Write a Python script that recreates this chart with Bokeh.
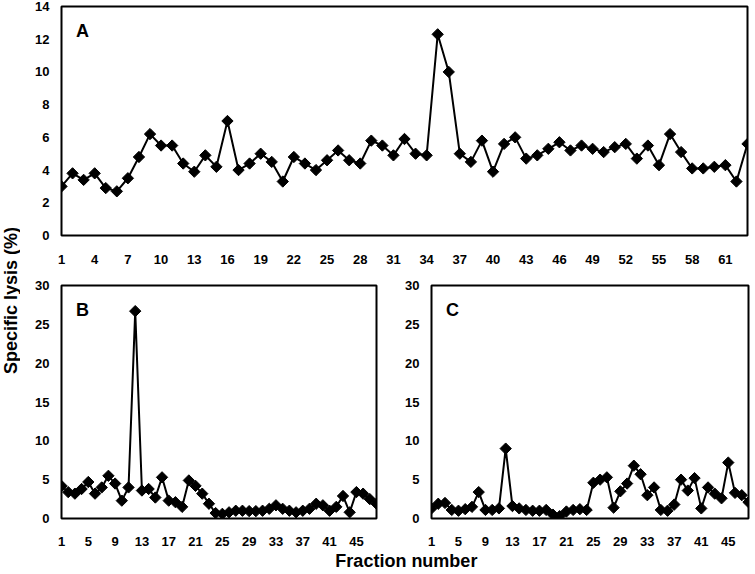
import math
from bokeh.plotting import figure
from bokeh.layouts import row, column
from bokeh.models import Range1d, FixedTicker, Label
from bokeh.embed import file_html
from bokeh.resources import INLINE

# ---------------- data ----------------
fractions_a = list(range(1, 64))
lysis_a = [3.0, 3.8, 3.4, 3.8, 2.9, 2.7, 3.5, 4.8, 6.2, 5.5,
           5.5, 4.4, 3.9, 4.9, 4.2, 7.0, 4.0, 4.4, 5.0, 4.5,
           3.3, 4.8, 4.4, 4.0, 4.6, 5.2, 4.6, 4.4, 5.8, 5.5,
           4.9, 5.9, 5.0, 4.9, 12.3, 10.0, 5.0, 4.5, 5.8, 3.9,
           5.6, 6.0, 4.7, 4.9, 5.3, 5.7, 5.2, 5.5, 5.3, 5.1,
           5.4, 5.6, 4.7, 5.5, 4.3, 6.2, 5.1, 4.1, 4.1, 4.2,
           4.3, 3.3, 5.6]

fractions_bc = list(range(1, 49))
lysis_b = [4.2, 3.4, 3.2, 3.8, 4.7, 3.2, 4.0, 5.5, 4.5, 2.3,
           4.0, 26.7, 3.6, 3.8, 2.7, 5.3, 2.3, 2.1, 1.5, 4.9,
           4.2, 3.2, 1.9, 0.7, 0.6, 0.8, 1.0, 1.0, 0.95, 0.95,
           1.0, 1.25, 1.7, 1.25, 1.0, 0.8, 1.0, 1.25, 1.9, 1.7,
           1.0, 1.5, 2.9, 0.8, 3.4, 3.2, 2.5, 1.9]
lysis_c = [1.3, 1.9, 2.0, 1.1, 1.0, 1.2, 1.5, 3.4, 1.1, 1.1,
           1.3, 9.0, 1.6, 1.3, 1.1, 1.0, 1.0, 1.1, 0.5, 0.3,
           0.9, 1.1, 1.2, 1.1, 4.6, 5.0, 5.3, 1.4, 3.5, 4.5,
           6.8, 5.7, 3.0, 4.0, 1.1, 1.0, 1.8, 5.0, 3.6, 5.2,
           1.3, 4.0, 3.2, 2.6, 7.2, 3.3, 3.0, 2.1]

ticks_a_x = list(range(1, 62, 3))
ticks_a_y = list(range(0, 15, 2))
ticks_bc_x = list(range(1, 46, 4))
ticks_bc_y = list(range(0, 31, 5))

FONT = "Liberation Sans"


def panel(xs, ys, xr, yr, xt, yt, letter, width, height, mb, xstand):
    p = figure(width=width, height=height, x_range=Range1d(*xr), y_range=Range1d(*yr),
               output_backend="svg", toolbar_location=None,
               min_border_left=mb[0], min_border_right=mb[1],
               min_border_top=mb[2], min_border_bottom=mb[3])
    p.xgrid.visible = False
    p.ygrid.visible = False
    p.background_fill_color = "white"
    p.border_fill_color = "white"
    p.outline_line_color = "black"
    p.outline_line_width = 2
    for ax in (p.xaxis[0], p.yaxis[0]):
        ax.axis_line_color = None
        ax.major_tick_line_color = None
        ax.minor_tick_line_color = None
        ax.major_label_text_font = FONT
        ax.major_label_text_font_style = "bold"
        ax.major_label_text_font_size = "13px"
        ax.major_label_text_color = "black"
    p.xaxis[0].ticker = FixedTicker(ticks=xt)
    p.yaxis[0].ticker = FixedTicker(ticks=yt)
    p.xaxis[0].major_label_standoff = xstand
    p.yaxis[0].major_label_standoff = 6
    p.line(xs, ys, line_color="black", line_width=2)
    p.scatter(xs, ys, marker="square", angle=math.pi / 4, size=8,
              fill_color="black", line_color="black")
    p.add_layout(Label(x=21, y=height - mb[2] - mb[3] - 24, x_units="screen", y_units="screen",
                       text=letter, text_font=FONT, text_font_style="bold", text_color="black",
                       text_font_size="18px", text_baseline="middle", text_align="center"))
    return p


pa = panel(fractions_a, lysis_a, (1, 63), (0, 14), ticks_a_x, ticks_a_y, "A",
           732, 266, (41, 5, 6, 31), 13)
pb = panel(fractions_bc, lysis_b, (1, 48), (0, 30), ticks_bc_x, ticks_bc_y, "B",
           370, 282, (41, 14, 19, 30), 12)
pc = panel(fractions_bc, lysis_c, (1, 48), (0, 30), ticks_bc_x, ticks_bc_y, "C",
           362, 282, (41, 4, 19, 30), 12)

# y title
ylab = figure(width=20, height=574, x_range=Range1d(0, 20), y_range=Range1d(0, 574),
              output_backend="svg", toolbar_location=None, min_border=0)
ylab.axis.visible = False
ylab.grid.visible = False
ylab.outline_line_color = None
ylab.add_layout(Label(x=10, y=574 - 300, text="Specific lysis (%)", angle=math.pi / 2,
                      text_font=FONT, text_font_style="bold", text_font_size="18px",
                      text_color="black", text_align="center", text_baseline="middle"))

# x title
xlab = figure(width=732, height=26, x_range=Range1d(0, 732), y_range=Range1d(0, 26),
              output_backend="svg", toolbar_location=None, min_border=0)
xlab.axis.visible = False
xlab.grid.visible = False
xlab.outline_line_color = None
xlab.add_layout(Label(x=368, y=14, text="Fraction number",
                      text_font=FONT, text_font_style="bold", text_font_size="18px",
                      text_color="black", text_align="center", text_baseline="middle"))

layout = row(ylab, column(pa, row(pb, pc), xlab))

open("out.html", "w").write(file_html(layout, INLINE))
